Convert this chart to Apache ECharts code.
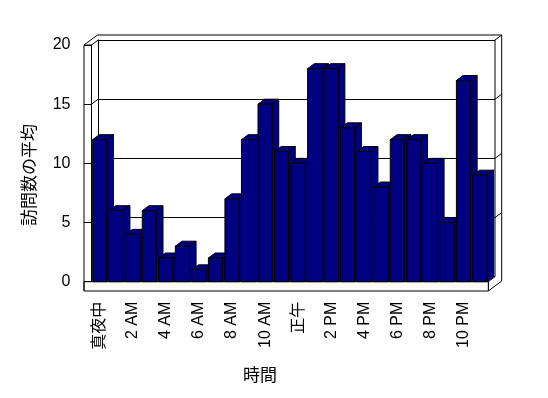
<!DOCTYPE html>
<html><head><meta charset="utf-8">
<script src="https://cdn.jsdelivr.net/npm/echarts@6/dist/echarts.min.js"></script>
<style>html,body{margin:0;padding:0;background:#fff}#c{width:548px;height:398px}</style>
</head><body><div id="c"></div>
<script>
const hours = ['真夜中','1 AM','2 AM','3 AM','4 AM','5 AM','6 AM','7 AM','8 AM','9 AM','10 AM','11 AM',
  '正午','1 PM','2 PM','3 PM','4 PM','5 PM','6 PM','7 PM','8 PM','9 PM','10 PM','11 PM'];
const visits = [12,6,4,6,2,3,1,2,7,12,15,11,10,18,18,13,11,8,12,12,10,5,17,9];
const yTicks = [0,5,10,15,20];
const yTitle = '訪問数の平均';
const xTitle = '時間';

const W = 548, H = 398;
const FL = 91.5, FR = 488.3, FT = 45, FB = 281.7;   // front plane
const DX = 6.7, DY = 5;                            // depth step
const WALL = 7.5, FLOOR = 9.3;
const FONT = "'Liberation Sans','Noto Sans CJK JP',sans-serif";
const NAVY = '#000080';

const chart = echarts.init(document.getElementById('c'), null, {renderer:'canvas'});
const yMin = yTicks[0], yMax = yTicks[yTicks.length-1], yStep = yTicks[1]-yTicks[0];

chart.setOption({
  animation:false,
  backgroundColor:'#fff',
  grid:[
    {left:FL, right:W-FR, top:FT, bottom:H-FB},
    {left:FL+DX, right:W-FR-DX, top:FT-DY, bottom:H-FB+DY}
  ],
  xAxis:[
    {type:'category', gridIndex:0, data:hours, boundaryGap:true,
     axisLine:{show:true, lineStyle:{color:'#000', width:1}},
     axisTick:{show:true, length:FLOOR, interval:0, lineStyle:{color:'#000'}},
     axisLabel:{interval:1, rotate:90, margin:20, color:'#000', fontSize:16, fontFamily:FONT},
     splitLine:{show:false}},
    {type:'category', gridIndex:1, data:hours, show:false}
  ],
  yAxis:[
    {type:'value', gridIndex:0, min:yMin, max:yMax, interval:yStep,
     axisLine:{show:true, lineStyle:{color:'#000', width:1}},
     axisTick:{show:true, length:WALL, lineStyle:{color:'#000'}},
     axisLabel:{margin:21, color:'#000', fontSize:16, fontFamily:FONT},
     splitLine:{show:false}},
    {type:'value', gridIndex:1, min:yMin, max:yMax, interval:yStep,
     axisLine:{show:true, lineStyle:{color:'#000', width:1}},
     axisTick:{show:false}, axisLabel:{show:false},
     splitLine:{show:true, lineStyle:{color:'#000', width:1, type:'solid'}}}
  ],
  series:[{
    type:'custom', xAxisIndex:0, yAxisIndex:0, z:5,
    data: visits.map((v,i)=>[i,v]),
    renderItem:function(params, api){
      const i = api.value(0), v = api.value(1);
      const base = api.coord([i, 0]);
      const top = api.coord([i, v]);
      const band = api.size([1,0])[0];
      const x0 = base[0] - band/2 + band*0.07;
      const w = band*0.85;
      const ty = top[1], by = base[1];
      const st = {fill:NAVY, stroke:'#000', lineWidth:1};
      return {type:'group', children:[
        {type:'polygon', shape:{points:[[x0,ty],[x0+w,ty],[x0+w+DX,ty-DY],[x0+DX,ty-DY]]}, style:st},
        {type:'polygon', shape:{points:[[x0+w,ty],[x0+w+DX,ty-DY],[x0+w+DX,by-DY],[x0+w,by]]}, style:st},
        {type:'rect', shape:{x:x0, y:ty, width:w, height:by-ty}, style:st}
      ]};
    }
  }]
});

// decorations: walls and floor, derived from the grids and axes
const yf = v => chart.convertToPixel({yAxisIndex:0}, v);
const yb = v => chart.convertToPixel({yAxisIndex:1}, v);
const ln = (x1,y1,x2,y2) => ({type:'line', z:1, shape:{x1,y1,x2,y2}, style:{stroke:'#000', lineWidth:1}});
const BL = FL+DX, BR = FR+DX;
const g = [];
// floor front slab
g.push({type:'rect', z:1, shape:{x:FL-WALL, y:FB, width:FR-(FL-WALL), height:FLOOR}, style:{fill:'#fff', stroke:'#000', lineWidth:1}});
// left wall
g.push(ln(FL-WALL, yf(yMax), FL-WALL, FB+FLOOR));
g.push(ln(FL-WALL, yf(yMax), FL, yf(yMax)));
g.push(ln(FL-WALL, yf(yMax), FL-WALL+2*DX, yf(yMax)-2*DY));
g.push(ln(FL, yf(yMax), BL, yb(yMax)));
// back wall top and right thickness
g.push(ln(FL-WALL+2*DX, yf(yMax)-2*DY, BR+DX, yb(yMax)-DY));
g.push(ln(BR, yb(yMax), BR+DX, yb(yMax)-DY));
g.push(ln(BR, yb(yMax), BR, yb(yMin)));
g.push(ln(BR+DX, yb(yMax)-DY, BR+DX, FB+FLOOR-2*DY));
// floor right face
g.push(ln(FR, FB, BR, yb(yMin)));
g.push(ln(FR, FB+FLOOR, BR+DX, FB+FLOOR-2*DY));
// tick links
yTicks.forEach(v => {
  if (v !== yMin && v !== yMax) {
    g.push(ln(FL, yf(v), BL, yb(v)));
    g.push(ln(BR, yb(v), BR+DX, yb(v)-DY));
  }
});
// titles
g.push({type:'text', z:1, x:29, y:175, rotation:Math.PI/2,
  style:{text:yTitle, fill:'#000', fontSize:17, fontFamily:"'Noto Sans CJK JP',sans-serif", textAlign:'center', textVerticalAlign:'middle'}});
g.push({type:'text', z:1, x:260, y:375,
  style:{text:xTitle, fill:'#000', fontSize:17, fontFamily:"'Noto Sans CJK JP',sans-serif", textAlign:'center', textVerticalAlign:'middle'}});
chart.setOption({graphic:{elements:g}});
</script>
</body></html>
